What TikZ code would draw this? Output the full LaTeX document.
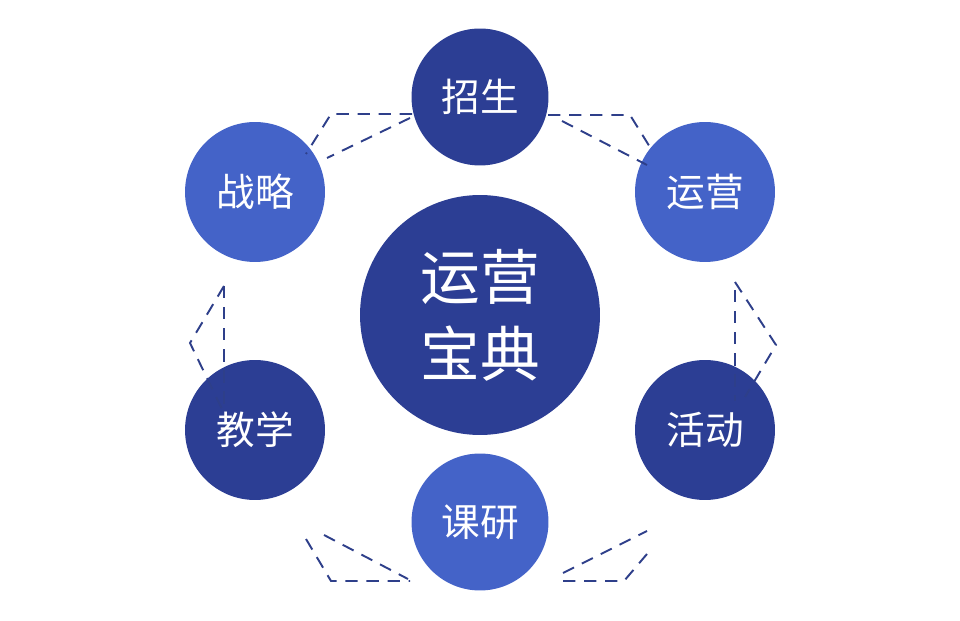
\documentclass[tikz,border=0pt]{standalone}
\usepackage{fontspec}
\setmainfont{Noto Sans CJK SC}
\definecolor{navy}{HTML}{2C3E94}
\definecolor{royal}{HTML}{4463C8}
\definecolor{dashcol}{HTML}{2E3F8A}
\tikzset{
every picture/.style={
line width=1pt
}}

\begin{document}
\begin{tikzpicture}[x=0.02cm,y=-0.02cm,
disc/.style = {circle, draw=none, text=white, inner sep=0pt},
link/.style = {dashcol, line width=1.1pt, dash pattern=on 7pt off 5pt}]
\useasboundingbox (0,0) rectangle (960,621);

\node[disc, fill=navy, minimum size=4.8cm, font=\fontsize{34}{44}\selectfont, align=center] (core) at (480,315) {运营\\宝典};
\node[disc, fill=navy, minimum size=2.74cm, font=\fontsize{22}{26}\selectfont] (zs) at (480,97) {招生};
\node[disc, fill=royal, minimum size=2.8cm, font=\fontsize{22}{26}\selectfont] (yy) at (705,192) {运营};
\node[disc, fill=navy, minimum size=2.8cm, font=\fontsize{22}{26}\selectfont] (hd) at (705,430) {活动};
\node[disc, fill=royal, minimum size=2.74cm, font=\fontsize{22}{26}\selectfont] (ky) at (480,522) {课研};
\node[disc, fill=navy, minimum size=2.8cm, font=\fontsize{22}{26}\selectfont] (jx) at (255,430) {教学};
\node[disc, fill=royal, minimum size=2.8cm, font=\fontsize{22}{26}\selectfont] (zl) at (255,192) {战略};

% zs -- yy
\draw[link] (548,115) -- (630,115) -- (653,152);
\draw[link] (562,121) -- (647,165);
% zl -- zs
\draw[link] (412,114) -- (331,114) -- (306,154);
\draw[link] (410,118) -- (327,158);
% zl -- jx
\draw[link] (224,286) -- (224,410);
\draw[link] (224,286) -- (190,343) -- (222,409);
% yy -- hd
\draw[link] (735,290) -- (735,401);
\draw[link] (735,282) -- (776,345) -- (745,397);
% jx -- ky
\draw[link] (306,539) -- (331,581) -- (410,581);
\draw[link] (324,535) -- (408,579);
% ky -- hd
\draw[link] (563,581) -- (624,581) -- (647,554);
\draw[link] (563,573) -- (647,531);
\end{tikzpicture}
\end{document}
